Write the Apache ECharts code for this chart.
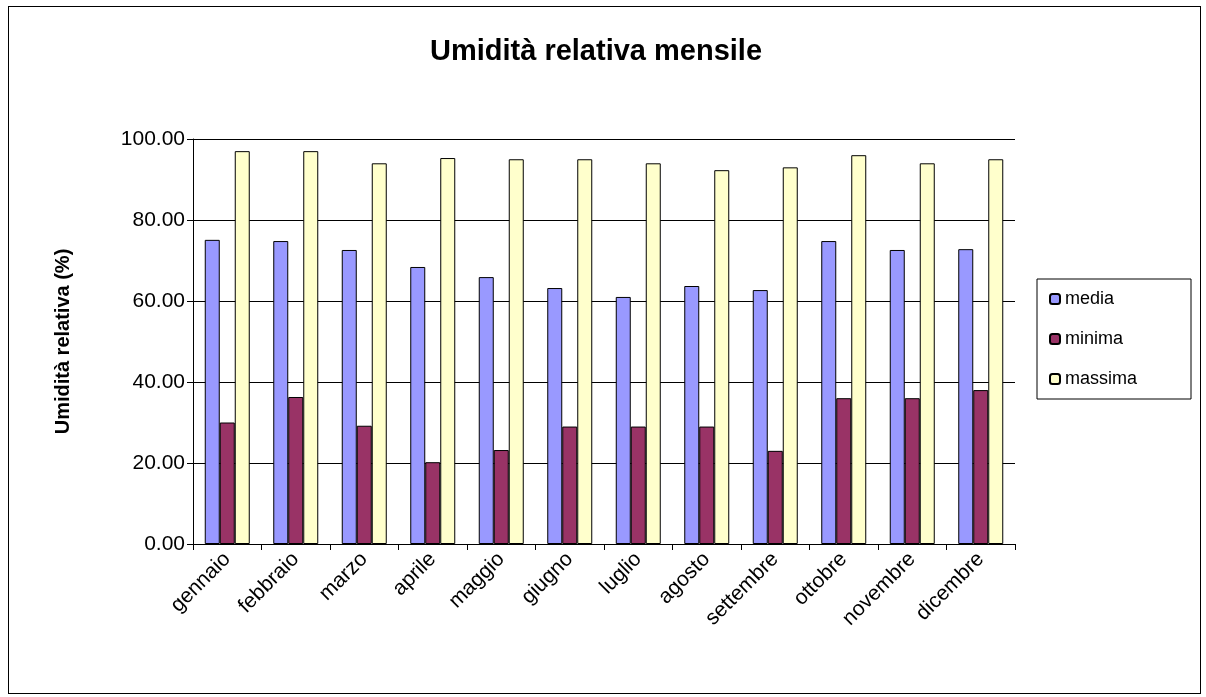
<!DOCTYPE html>
<html>
<head>
<meta charset="utf-8">
<script src="https://cdn.jsdelivr.net/npm/echarts@6/dist/echarts.min.js"></script>
<style>
  html, body { margin: 0; padding: 0; background: #fff; }
  #chart { width: 1206px; height: 697px; }
  #frame { position: absolute; left: 8px; top: 6px; width: 1191px; height: 686px; border: 1px solid #000; pointer-events: none; }
</style>
</head>
<body>
<div id="chart"></div>
<div id="frame"></div>
<script>
const months = ['gennaio', 'febbraio', 'marzo', 'aprile', 'maggio', 'giugno',
  'luglio', 'agosto', 'settembre', 'ottobre', 'novembre', 'dicembre'];
const media = [75.1, 74.8, 72.6, 68.4, 65.9, 63.2, 61.0, 63.7, 62.7, 74.8, 72.6, 72.8];
const minima = [30.0, 36.3, 29.2, 20.2, 23.2, 29.0, 29.0, 29.0, 23.0, 36.0, 36.0, 38.0];
const massima = [97.0, 97.0, 94.0, 95.3, 95.0, 95.0, 94.0, 92.3, 93.0, 96.0, 94.0, 95.0];

const chart = echarts.init(document.getElementById('chart'));
const barStyle = color => ({ color: color, borderColor: '#000', borderWidth: 1 });

chart.setOption({
  backgroundColor: '#fff',
  animation: false,
  textStyle: { fontFamily: 'Liberation Sans, Arial, sans-serif' },
  title: {
    text: 'Umidità relativa mensile',
    left: 591, top: 32, textAlign: 'center',
    textStyle: { fontSize: 29, fontWeight: 'bold', color: '#000' },
  },
  legend: {
    orient: 'vertical',
    left: 1037, top: 279,
    padding: [11, 54, 11, 12],
    itemGap: 22,
    itemWidth: 10, itemHeight: 10,
    borderColor: '#000', borderWidth: 1,
    textStyle: { fontSize: 18, color: '#000' },
    data: ['media', 'minima', 'massima'],
  },
  grid: { left: 193, right: 191, top: 139, bottom: 153 },
  xAxis: {
    type: 'category',
    data: months,
    axisLine: { lineStyle: { color: '#000' } },
    axisTick: { show: true, lineStyle: { color: '#000' }, length: 6 },
    axisLabel: { rotate: 45, fontSize: 21, color: '#000', margin: 12 },
  },
  yAxis: {
    type: 'value', min: 0, max: 100, interval: 20,
    name: 'Umidità relativa (%)', nameLocation: 'middle', nameGap: 120,
    nameTextStyle: { fontSize: 20, fontWeight: 'bold', color: '#000' },
    axisLine: { show: true, lineStyle: { color: '#000' } },
    axisTick: { show: true, lineStyle: { color: '#000' }, length: 6 },
    axisLabel: { fontSize: 21, color: '#000', formatter: v => v.toFixed(2) },
    splitLine: { lineStyle: { color: '#000' } },
  },
  series: [
    { name: 'media', type: 'bar', data: media, barWidth: 15, barGap: '0%', itemStyle: barStyle('#9999FF') },
    { name: 'minima', type: 'bar', data: minima, barWidth: 15, itemStyle: barStyle('#993366') },
    { name: 'massima', type: 'bar', data: massima, barWidth: 15, itemStyle: barStyle('#FFFFCC') },
  ],
});
</script>
</body>
</html>
